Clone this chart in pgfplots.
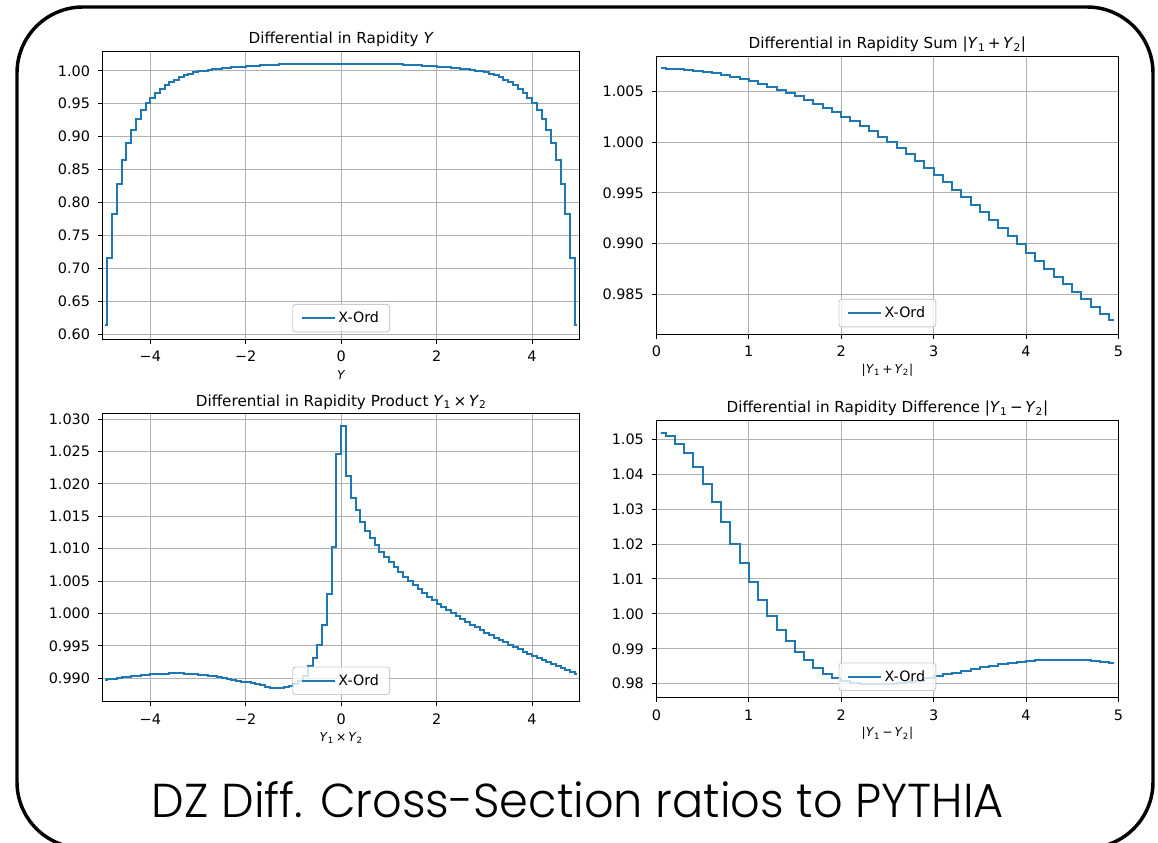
\documentclass[border=0pt]{standalone}
\usepackage{fontspec}
\setmainfont{DejaVu Sans}
\newfontfamily\capfont{Poppins Light}
\usepackage{pgfplots}
\pgfplotsset{compat=1.18}
\definecolor{mplblue}{RGB}{31,119,180}
\definecolor{mplgrid}{RGB}{176,176,176}
\definecolor{legedge}{RGB}{204,204,204}
\newcommand{\Y}[1]{\textit{Y}\textsubscript{#1}}
\tikzset{ser/.style={mplblue, line width=1.5pt, mark=none, const plot mark mid}}
\pgfplotsset{
  mpl/.style={
    scale only axis,
    anchor=south west,
    axis line style={line width=0.7pt},
    grid=major,
    major grid style={mplgrid, line width=0.7pt},
    tick align=outside,
    major tick length=3.6pt,
    tick style={black, line width=0.7pt},
    tick pos=left,
    ticklabel style={font=\fontsize{10.8}{12}\selectfont},
    xticklabel style={yshift=-2pt},
    yticklabel style={xshift=-2.3pt},
    title style={font=\fontsize{11.4}{13}\selectfont, at={(0.5,1)}, anchor=center, yshift=3pt},
    xlabel style={font=\fontsize{9.2}{11}\selectfont, at={(0.5,0)}, anchor=center, yshift=-27pt},
    legend style={at={(0.5,0)}, anchor=south, yshift=5pt,
      draw=legedge, line width=0.7pt, rounded corners=2pt,
      fill=white, fill opacity=0.8, text opacity=1,
      font=\fontsize{10.7}{12}\selectfont,
      inner xsep=6pt, inner ysep=3.5pt},
    legend image code/.code={\draw[#1] (0pt,0pt) -- (24.75pt,0pt);},
  }
}
\begin{document}
\begin{tikzpicture}
\useasboundingbox (0,0) rectangle (868.5pt,632.25pt);
\fill[white] (0,0) rectangle (868.5pt,632.25pt);
\draw[line width=2.6pt, rounded corners=49.5pt] (12.75pt,-3.75pt) rectangle (864.75pt,627pt);

% ---------------- top left: Y
\begin{axis}[mpl, at={(76.95pt,378pt)}, width=357.9pt, height=215.5pt,
  xmin=-5, xmax=5, ymin=0.593, ymax=1.029,
  xtick={-4,-2,0,2,4}, xticklabels={−4,−2,0,2,4},
  ytick={0.60,0.65,0.70,0.75,0.80,0.85,0.90,0.95,1.00},
  yticklabels={0.60,0.65,0.70,0.75,0.80,0.85,0.90,0.95,1.00},
  title={Differential in Rapidity \textit{Y}}, xlabel={\textit{Y}}]
\addplot[ser] table {
-4.95 0.6135
-4.85 0.7153
-4.75 0.7833
-4.65 0.8289
-4.55 0.8643
-4.45 0.8897
-4.35 0.9099
-4.25 0.9266
-4.15 0.9398
-4.05 0.9504
-3.95 0.9590
-3.85 0.9662
-3.75 0.9724
-3.65 0.9778
-3.55 0.9825
-3.45 0.9866
-3.35 0.9901
-3.25 0.9931
-3.15 0.9955
-3.05 0.9975
-2.95 0.9990
-2.85 1.0003
-2.75 1.0014
-2.65 1.0024
-2.55 1.0033
-2.45 1.0041
-2.35 1.0048
-2.25 1.0054
-2.15 1.0059
-2.05 1.0064
-1.95 1.0069
-1.85 1.0073
-1.75 1.0077
-1.65 1.0081
-1.55 1.0085
-1.45 1.0089
-1.35 1.0093
-1.25 1.0096
-1.15 1.0098
-1.05 1.0099
-0.95 1.0100
-0.85 1.0100
-0.75 1.0100
-0.65 1.0100
-0.55 1.0100
-0.45 1.0100
-0.35 1.0100
-0.25 1.0100
-0.15 1.0100
-0.05 1.0100
0.05 1.0100
0.15 1.0100
0.25 1.0100
0.35 1.0100
0.45 1.0100
0.55 1.0100
0.65 1.0100
0.75 1.0100
0.85 1.0100
0.95 1.0100
1.05 1.0099
1.15 1.0098
1.25 1.0096
1.35 1.0093
1.45 1.0089
1.55 1.0085
1.65 1.0081
1.75 1.0077
1.85 1.0073
1.95 1.0069
2.05 1.0064
2.15 1.0059
2.25 1.0054
2.35 1.0048
2.45 1.0041
2.55 1.0033
2.65 1.0024
2.75 1.0014
2.85 1.0003
2.95 0.9990
3.05 0.9975
3.15 0.9955
3.25 0.9931
3.35 0.9901
3.45 0.9866
3.55 0.9825
3.65 0.9778
3.75 0.9724
3.85 0.9662
3.95 0.9590
4.05 0.9504
4.15 0.9398
4.25 0.9266
4.35 0.9099
4.45 0.8897
4.55 0.8643
4.65 0.8289
4.75 0.7833
4.85 0.7153
4.95 0.6135
};
\addlegendentry{X-Ord}
\end{axis}

% ---------------- top right: |Y1+Y2|
\begin{axis}[mpl, at={(492.3pt,381.75pt)}, width=346.5pt, height=208pt,
  xmin=0, xmax=5, ymin=0.9811, ymax=1.0084,
  xtick={0,1,2,3,4,5}, xticklabels={0,1,2,3,4,5},
  ytick={0.985,0.990,0.995,1.000,1.005},
  yticklabels={0.985,0.990,0.995,1.000,1.005},
  title={Differential in Rapidity Sum |\Y{1}\,+\,\Y{2}|}, xlabel={|\Y{1}\,+\,\Y{2}|}]
\addplot[ser] table {
0.05 1.00726
0.15 1.00722
0.25 1.00717
0.35 1.00710
0.45 1.00701
0.55 1.00690
0.65 1.00677
0.75 1.00661
0.85 1.00642
0.95 1.00621
1.05 1.00598
1.15 1.00573
1.25 1.00546
1.35 1.00516
1.45 1.00484
1.55 1.00450
1.65 1.00414
1.75 1.00376
1.85 1.00336
1.95 1.00294
2.05 1.00250
2.15 1.00204
2.25 1.00156
2.35 1.00106
2.45 1.00054
2.55 1.00000
2.65 0.99940
2.75 0.99877
2.85 0.99812
2.95 0.99745
3.05 0.99676
3.15 0.99605
3.25 0.99532
3.35 0.99458
3.45 0.99383
3.55 0.99306
3.65 0.99228
3.75 0.99149
3.85 0.99070
3.95 0.98991
4.05 0.98912
4.15 0.98832
4.25 0.98753
4.35 0.98675
4.45 0.98598
4.55 0.98523
4.65 0.98450
4.75 0.98379
4.85 0.98310
4.95 0.98245
};
\addlegendentry{X-Ord}
\end{axis}

% ---------------- bottom left: Y1 x Y2
\begin{axis}[mpl, at={(76.95pt,106pt)}, width=357.9pt, height=215.8pt,
  xmin=-5, xmax=5, ymin=0.98639, ymax=1.0308,
  xtick={-4,-2,0,2,4}, xticklabels={−4,−2,0,2,4},
  ytick={0.990,0.995,1.000,1.005,1.010,1.015,1.020,1.025,1.030},
  yticklabels={0.990,0.995,1.000,1.005,1.010,1.015,1.020,1.025,1.030},
  title={Differential in Rapidity Product \Y{1}\,×\,\Y{2}}, xlabel={\Y{1}\,×\,\Y{2}}]
\addplot[ser] table {
-4.95 0.98975
-4.85 0.98985
-4.75 0.98995
-4.65 0.99005
-4.55 0.99015
-4.45 0.99025
-4.35 0.99033
-4.25 0.99041
-4.15 0.99048
-4.05 0.99054
-3.95 0.99060
-3.85 0.99065
-3.75 0.99069
-3.65 0.99072
-3.55 0.99074
-3.45 0.99075
-3.35 0.99074
-3.25 0.99071
-3.15 0.99067
-3.05 0.99062
-2.95 0.99055
-2.85 0.99047
-2.75 0.99038
-2.65 0.99028
-2.55 0.99017
-2.45 0.99005
-2.35 0.98992
-2.25 0.98978
-2.15 0.98964
-2.05 0.98950
-1.95 0.98936
-1.85 0.98921
-1.75 0.98906
-1.65 0.98890
-1.55 0.98870
-1.45 0.98852
-1.35 0.98843
-1.25 0.98850
-1.15 0.98862
-1.05 0.98885
-0.95 0.98918
-0.85 0.98960
-0.75 0.99040
-0.65 0.99190
-0.55 0.99307
-0.45 0.99513
-0.35 0.99822
-0.25 1.00296
-0.15 1.01022
-0.05 1.02464
0.05 1.02887
0.15 1.02124
0.25 1.01790
0.35 1.01599
0.45 1.01419
0.55 1.01280
0.65 1.01161
0.75 1.01058
0.85 1.00955
0.95 1.00868
1.05 1.00790
1.15 1.00713
1.25 1.00641
1.35 1.00569
1.45 1.00502
1.55 1.00440
1.65 1.00379
1.75 1.00317
1.85 1.00260
1.95 1.00204
2.05 1.00152
2.15 1.00102
2.25 1.00054
2.35 1.00007
2.45 0.99961
2.55 0.99916
2.65 0.99872
2.75 0.99829
2.85 0.99787
2.95 0.99746
3.05 0.99706
3.15 0.99667
3.25 0.99628
3.35 0.99590
3.45 0.99553
3.55 0.99516
3.65 0.99480
3.75 0.99445
3.85 0.99410
3.95 0.99376
4.05 0.99343
4.15 0.99310
4.25 0.99278
4.35 0.99246
4.45 0.99215
4.55 0.99184
4.65 0.99154
4.75 0.99125
4.85 0.99096
4.95 0.99068
};
\addlegendentry{X-Ord}
\end{axis}

% ---------------- bottom right: |Y1-Y2|
\begin{axis}[mpl, at={(492.3pt,109pt)}, width=346.5pt, height=207.75pt,
  xmin=0, xmax=5, ymin=0.9760, ymax=1.0553,
  xtick={0,1,2,3,4,5}, xticklabels={0,1,2,3,4,5},
  ytick={0.98,0.99,1.00,1.01,1.02,1.03,1.04,1.05},
  yticklabels={0.98,0.99,1.00,1.01,1.02,1.03,1.04,1.05},
  title={Differential in Rapidity Difference |\Y{1}\,−\,\Y{2}|}, xlabel={|\Y{1}\,−\,\Y{2}|}]
\addplot[ser] table {
0.05 1.0519
0.15 1.0508
0.25 1.0487
0.35 1.0459
0.45 1.0421
0.55 1.0373
0.65 1.0320
0.75 1.0262
0.85 1.0201
0.95 1.0145
1.05 1.0090
1.15 1.0039
1.25 0.9995
1.35 0.9955
1.45 0.9922
1.55 0.9890
1.65 0.9867
1.75 0.9846
1.85 0.9829
1.95 0.9816
2.05 0.9809
2.15 0.9803
2.25 0.9800
2.35 0.9798
2.45 0.9798
2.55 0.9799
2.65 0.9801
2.75 0.9804
2.85 0.9809
2.95 0.9817
3.05 0.9823
3.15 0.9827
3.25 0.9831
3.35 0.9836
3.45 0.9843
3.55 0.9848
3.65 0.9851
3.75 0.9856
3.85 0.9860
3.95 0.9863
4.05 0.9865
4.15 0.9867
4.25 0.9869
4.35 0.9869
4.45 0.9869
4.55 0.9869
4.65 0.9867
4.75 0.9865
4.85 0.9863
4.95 0.9859
};
\addlegendentry{X-Ord}
\end{axis}

\node[anchor=base, inner sep=0pt] at (433.5pt,18.75pt) {\resizebox{639pt}{27pt}{\capfont DZ Diff. Cross-Section ratios to PYTHIA}};
\end{tikzpicture}
\end{document}
